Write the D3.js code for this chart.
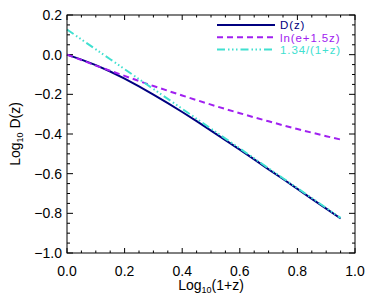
<!DOCTYPE html>
<html lang="en">
<head>
<meta charset="UTF-8" />
<title>Log10 D(z)</title>
<script src="https://d3js.org/d3.v7.min.js"></script>
<style>
    html, body { margin: 0; padding: 0; background: #fff; }
    svg { display: block; font-family: "Liberation Sans", Arial, sans-serif; }
</style>
</head>
<body>
<svg id="chart" width="374" height="299"></svg>
<script>
    // log10(1+z) sample points
    const logOnePlusZ = [0, 0.05, 0.1, 0.15, 0.2, 0.25, 0.3, 0.35, 0.4, 0.45, 0.5,
        0.55, 0.6, 0.65, 0.7, 0.75, 0.8, 0.85, 0.9, 0.95];
    // values
    const growthD = [0, -0.025, -0.053, -0.085, -0.121, -0.160, -0.201, -0.244, -0.289, -0.335,
        -0.383, -0.431, -0.479, -0.528, -0.578, -0.627, -0.677, -0.727, -0.776, -0.826];
    const lnFit = [0, -0.027, -0.055, -0.081, -0.107, -0.133, -0.158, -0.182, -0.206, -0.229,
        -0.252, -0.274, -0.295, -0.316, -0.336, -0.356, -0.375, -0.393, -0.411, -0.428];
    const invFit = [0.127, 0.077, 0.027, -0.023, -0.073, -0.123, -0.173, -0.223, -0.273, -0.323,
        -0.373, -0.423, -0.473, -0.523, -0.573, -0.623, -0.673, -0.723, -0.773, -0.823];

    const xTicks = [0, 0.2, 0.4, 0.6, 0.8, 1.0];
    const yTicks = [-1.0, -0.8, -0.6, -0.4, -0.2, 0.0, 0.2];

    const seriesNames = ["D(z)", "ln(e+1.5z)", "1.34/(1+z)"];
    const seriesColors = ["#000080", "#a020f0", "#40e0d0"];
    const seriesDash = [null, "6,4", "8,3,1.5,2.5,1.5,2.5,1.5,3"];
    const seriesValues = [growthD, lnFit, invFit];

    const svg = d3.select("#chart");
    const box = { left: 67, right: 355, top: 15, bottom: 253 };

    const x = d3.scaleLinear().domain([0, 1]).range([box.left, box.right]);
    const y = d3.scaleLinear().domain([-1, 0.2]).range([box.bottom, box.top]);

    const fmt = v => d3.format(".1f")(v).replace("-", "\u2212");

    // ticks on all four sides, pointing inward (IDL style)
    const g = svg.append("g");
    const minorX = d3.range(0, 1.0001, 0.05);
    const minorY = d3.range(-1, 0.2001, 0.05);
    minorX.forEach(v => {
        const major = xTicks.some(t => Math.abs(t - v) < 1e-6);
        const len = major ? 5 : 2.5;
        g.append("line").attr("x1", x(v)).attr("x2", x(v))
            .attr("y1", box.bottom).attr("y2", box.bottom - len).attr("stroke", "#000");
        g.append("line").attr("x1", x(v)).attr("x2", x(v))
            .attr("y1", box.top).attr("y2", box.top + len).attr("stroke", "#000");
    });
    minorY.forEach(v => {
        const major = yTicks.some(t => Math.abs(t - v) < 1e-6);
        const len = major ? 6 : 3;
        g.append("line").attr("y1", y(v)).attr("y2", y(v))
            .attr("x1", box.left).attr("x2", box.left + len).attr("stroke", "#000");
        g.append("line").attr("y1", y(v)).attr("y2", y(v))
            .attr("x1", box.right).attr("x2", box.right - len).attr("stroke", "#000");
    });

    // tick labels
    svg.append("g").selectAll("text").data(xTicks).join("text")
        .attr("x", d => x(d)).attr("y", 276)
        .attr("text-anchor", "middle").attr("font-size", 14).attr("fill", "#000")
        .text(fmt);
    svg.append("g").selectAll("text").data(yTicks).join("text")
        .attr("x", 62).attr("y", d => y(d) + 5)
        .attr("text-anchor", "end").attr("font-size", 14).attr("fill", "#000")
        .text(fmt);

    // axis titles
    const xt = svg.append("text").attr("x", (box.left + box.right) / 2).attr("y", 290)
        .attr("text-anchor", "middle").attr("font-size", 14);
    xt.append("tspan").text("Log");
    xt.append("tspan").attr("font-size", 9).attr("dy", 3).text("10");
    xt.append("tspan").attr("dy", -3).text("(1+z)");

    const yt = svg.append("text")
        .attr("transform", `translate(20,${(box.top + box.bottom) / 2}) rotate(-90)`)
        .attr("text-anchor", "middle").attr("font-size", 14);
    yt.append("tspan").text("Log");
    yt.append("tspan").attr("font-size", 9).attr("dy", 3).text("10");
    yt.append("tspan").attr("dy", -3).text(" D(z)");

    // curves, drawn in legend order
    const line = d3.line().x((d, i) => x(logOnePlusZ[i])).y(d => y(d));
    seriesValues.forEach((vals, i) => {
        svg.append("path").datum(vals)
            .attr("d", line).attr("fill", "none")
            .attr("stroke", seriesColors[i]).attr("stroke-width", 2)
            .attr("stroke-dasharray", seriesDash[i]);
    });

    // legend
    const leg = svg.append("g");
    seriesNames.forEach((name, i) => {
        const ly = 25 + i * 12.3;
        leg.append("line").attr("x1", 217).attr("x2", 275).attr("y1", ly).attr("y2", ly)
            .attr("stroke", seriesColors[i]).attr("stroke-width", 2)
            .attr("stroke-dasharray", seriesDash[i]);
        leg.append("text").attr("x", 280).attr("y", ly + 4.3)
            .attr("font-size", 11.5).attr("letter-spacing", 0.9)
            .attr("fill", seriesColors[i]).text(name);
    });

    // frame
    svg.append("rect").attr("x", box.left).attr("y", box.top)
        .attr("width", box.right - box.left).attr("height", box.bottom - box.top)
        .attr("fill", "none").attr("stroke", "#000");
</script>
</body>
</html>
